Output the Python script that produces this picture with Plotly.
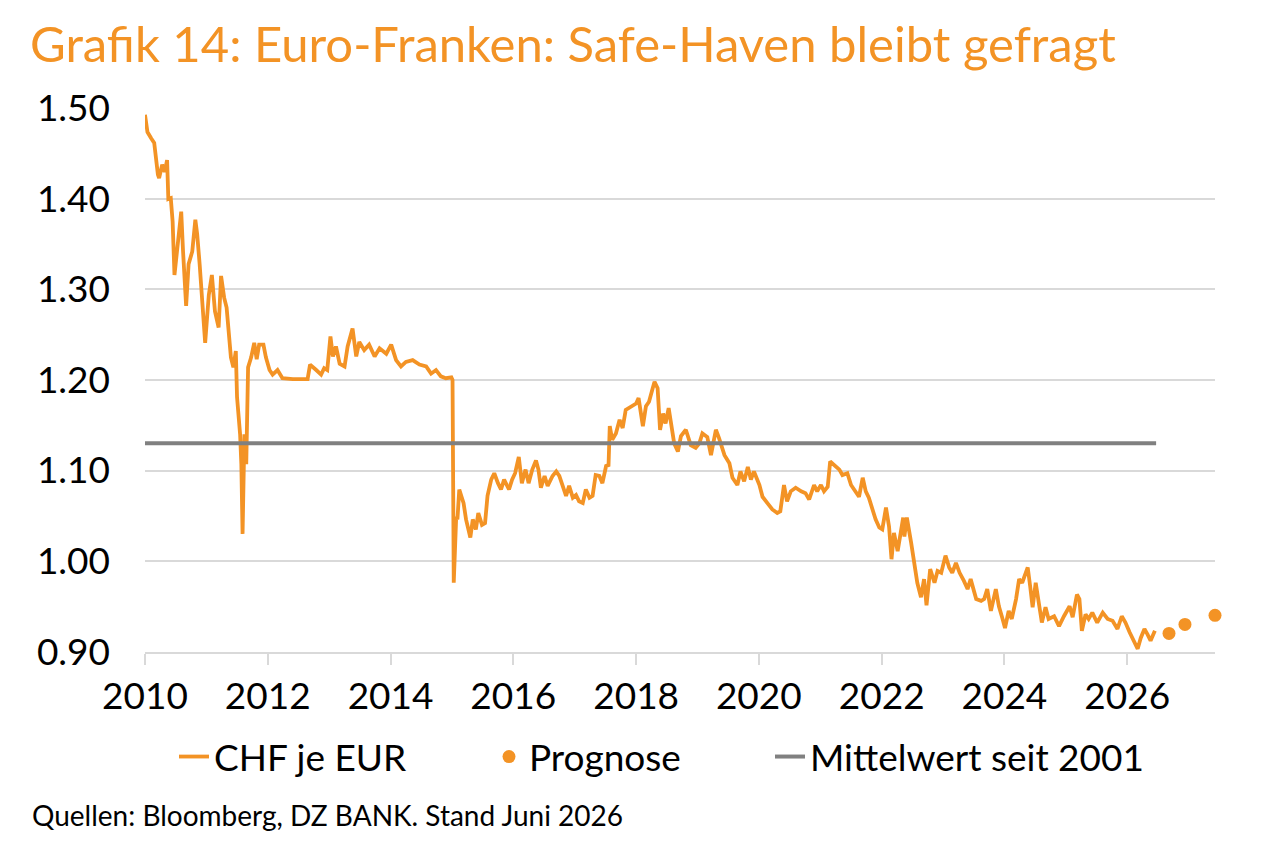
import datetime as dt
import plotly.graph_objects as go

# ---------------- data ----------------
# time in decimal years, CHF per EUR
spot_year = [
    2010.00, 2010.04, 2010.10, 2010.15, 2010.21, 2010.23, 2010.28, 2010.32, 2010.36, 2010.38,
    2010.42, 2010.45, 2010.48, 2010.53, 2010.59, 2010.62, 2010.67, 2010.71, 2010.77, 2010.82,
    2010.85, 2010.89, 2010.95, 2010.98, 2011.04, 2011.09, 2011.14, 2011.20, 2011.24, 2011.29,
    2011.33, 2011.37, 2011.40, 2011.44, 2011.48, 2011.50, 2011.53, 2011.55, 2011.57, 2011.59,
    2011.62, 2011.65, 2011.68, 2011.73, 2011.78, 2011.82, 2011.86, 2011.93, 2011.97, 2012.03,
    2012.08, 2012.16, 2012.24, 2012.41, 2012.65, 2012.69, 2012.79, 2012.87, 2012.92, 2012.97,
    2013.02, 2013.06, 2013.11, 2013.17, 2013.25, 2013.30, 2013.38, 2013.44, 2013.49, 2013.57,
    2013.65, 2013.74, 2013.82, 2013.93, 2014.01, 2014.09, 2014.17, 2014.25, 2014.36, 2014.47,
    2014.58, 2014.66, 2014.74, 2014.82, 2014.90, 2014.99, 2015.01, 2015.03, 2015.07, 2015.09,
    2015.12, 2015.19, 2015.23, 2015.30, 2015.34, 2015.39, 2015.43, 2015.49, 2015.54, 2015.58,
    2015.64, 2015.69, 2015.75, 2015.80, 2015.85, 2015.93, 2015.98, 2016.03, 2016.09, 2016.14,
    2016.20, 2016.25, 2016.31, 2016.37, 2016.41, 2016.45, 2016.51, 2016.56, 2016.64, 2016.70,
    2016.75, 2016.80, 2016.86, 2016.91, 2016.97, 2017.02, 2017.07, 2017.13, 2017.18, 2017.24,
    2017.29, 2017.34, 2017.40, 2017.45, 2017.51, 2017.55, 2017.57, 2017.61, 2017.67, 2017.73,
    2017.78, 2017.83, 2017.92, 2018.00, 2018.04, 2018.11, 2018.16, 2018.21, 2018.27, 2018.30,
    2018.35, 2018.39, 2018.44, 2018.48, 2018.53, 2018.57, 2018.62, 2018.68, 2018.73, 2018.81,
    2018.89, 2018.97, 2019.03, 2019.08, 2019.16, 2019.22, 2019.30, 2019.35, 2019.44, 2019.52,
    2019.57, 2019.65, 2019.70, 2019.76, 2019.82, 2019.87, 2019.92, 2020.01, 2020.06, 2020.14,
    2020.22, 2020.30, 2020.35, 2020.41, 2020.46, 2020.52, 2020.60, 2020.69, 2020.76, 2020.82,
    2020.90, 2020.95, 2021.01, 2021.06, 2021.12, 2021.16, 2021.23, 2021.31, 2021.36, 2021.44,
    2021.50, 2021.58, 2021.63, 2021.69, 2021.74, 2021.79, 2021.85, 2021.90, 2021.96, 2022.01,
    2022.07, 2022.12, 2022.16, 2022.20, 2022.26, 2022.31, 2022.35, 2022.37, 2022.41, 2022.48,
    2022.53, 2022.58, 2022.64, 2022.69, 2022.73, 2022.79, 2022.86, 2022.91, 2022.97, 2023.04,
    2023.10, 2023.15, 2023.21, 2023.27, 2023.34, 2023.40, 2023.45, 2023.54, 2023.62, 2023.67,
    2023.72, 2023.78, 2023.86, 2023.91, 2023.97, 2024.01, 2024.07, 2024.12, 2024.19, 2024.24,
    2024.29, 2024.35, 2024.38, 2024.42, 2024.46, 2024.51, 2024.56, 2024.61, 2024.67, 2024.72,
    2024.81, 2024.89, 2024.97, 2025.06, 2025.11, 2025.18, 2025.22, 2025.26, 2025.32, 2025.37,
    2025.43, 2025.51, 2025.60, 2025.68, 2025.76, 2025.84, 2025.91, 2025.97, 2026.04, 2026.09,
    2026.17, 2026.22, 2026.28, 2026.33, 2026.38, 2026.45,
]
spot_chf_per_eur = [
    1.493, 1.474, 1.467, 1.462, 1.427, 1.423, 1.438, 1.430, 1.443, 1.400,
    1.401, 1.375, 1.316, 1.349, 1.386, 1.342, 1.282, 1.328, 1.342, 1.377,
    1.361, 1.328, 1.269, 1.241, 1.294, 1.316, 1.276, 1.258, 1.315, 1.291,
    1.280, 1.250, 1.225, 1.214, 1.232, 1.181, 1.155, 1.140, 1.107, 1.030,
    1.140, 1.107, 1.214, 1.225, 1.241, 1.223, 1.239, 1.239, 1.225, 1.211,
    1.206, 1.211, 1.202, 1.201, 1.201, 1.217, 1.211, 1.206, 1.213, 1.211,
    1.248, 1.226, 1.237, 1.218, 1.215, 1.237, 1.257, 1.226, 1.242, 1.233,
    1.239, 1.226, 1.235, 1.229, 1.239, 1.222, 1.215, 1.220, 1.222, 1.217,
    1.215, 1.207, 1.211, 1.204, 1.202, 1.203, 1.200, 0.976, 1.049, 1.046,
    1.079, 1.064, 1.046, 1.026, 1.046, 1.035, 1.053, 1.040, 1.042, 1.072,
    1.090, 1.097, 1.086, 1.079, 1.090, 1.079, 1.090, 1.097, 1.115, 1.086,
    1.101, 1.086, 1.101, 1.111, 1.101, 1.081, 1.094, 1.083, 1.094, 1.099,
    1.094, 1.083, 1.072, 1.083, 1.070, 1.073, 1.066, 1.064, 1.079, 1.070,
    1.072, 1.095, 1.094, 1.086, 1.105, 1.106, 1.149, 1.134, 1.141, 1.156,
    1.147, 1.167, 1.171, 1.174, 1.180, 1.149, 1.171, 1.176, 1.191, 1.198,
    1.191, 1.145, 1.163, 1.152, 1.169, 1.152, 1.130, 1.121, 1.138, 1.145,
    1.128, 1.125, 1.130, 1.141, 1.137, 1.117, 1.145, 1.136, 1.117, 1.108,
    1.092, 1.084, 1.099, 1.088, 1.104, 1.090, 1.099, 1.084, 1.071, 1.064,
    1.057, 1.053, 1.055, 1.084, 1.066, 1.077, 1.081, 1.077, 1.075, 1.068,
    1.084, 1.077, 1.084, 1.077, 1.082, 1.110, 1.106, 1.101, 1.095, 1.097,
    1.084, 1.075, 1.071, 1.092, 1.077, 1.070, 1.057, 1.046, 1.037, 1.035,
    1.059, 1.038, 1.002, 1.031, 1.011, 1.031, 1.048, 1.027, 1.048, 1.020,
    0.995, 0.976, 0.960, 0.980, 0.951, 0.991, 0.976, 0.989, 0.987, 1.006,
    0.993, 0.987, 0.998, 0.987, 0.978, 0.969, 0.980, 0.958, 0.956, 0.958,
    0.969, 0.945, 0.969, 0.950, 0.936, 0.926, 0.945, 0.936, 0.958, 0.980,
    0.976, 0.987, 0.993, 0.972, 0.949, 0.976, 0.954, 0.932, 0.949, 0.936,
    0.939, 0.928, 0.939, 0.950, 0.938, 0.963, 0.958, 0.923, 0.941, 0.936,
    0.943, 0.932, 0.943, 0.936, 0.934, 0.925, 0.939, 0.932, 0.921, 0.914,
    0.903, 0.915, 0.925, 0.919, 0.912, 0.923,
]

forecast_year = [2026.68, 2026.94, 2027.43]
forecast_chf_per_eur = [0.92, 0.93, 0.94]

mean_since_2001 = 1.13
mean_span_year = [2010.00, 2026.47]

y_tick_values = [0.90, 1.00, 1.10, 1.20, 1.30, 1.40, 1.50]
y_tick_labels = ["0.90", "1.00", "1.10", "1.20", "1.30", "1.40", "1.50"]
x_tick_years = [2010, 2012, 2014, 2016, 2018, 2020, 2022, 2024, 2026]

title_text = "Grafik 14: Euro-Franken: Safe-Haven bleibt gefragt"
source_text = "Quellen: Bloomberg, DZ BANK. Stand Juni 2026"
series_names = ["CHF je EUR", "Prognose", "Mittelwert seit 2001"]


def to_date(y):
    year = int(y)
    return dt.datetime(year, 1, 1) + dt.timedelta(days=(y - year) * 365.25)


ORANGE = "#F39325"
GREY = "#808080"
GRID = "#D9D9D9"
FONT = "Lato, 'Noto Sans', sans-serif"

fig = go.Figure()
fig.add_trace(go.Scatter(
    x=[to_date(v) for v in spot_year], y=spot_chf_per_eur, mode="lines",
    name=series_names[0], line=dict(color=ORANGE, width=3.8), legend="legend",
))
fig.add_trace(go.Scatter(
    x=[to_date(v) for v in forecast_year], y=forecast_chf_per_eur, mode="markers",
    name=series_names[1], marker=dict(color=ORANGE, size=13), cliponaxis=False,
    legend="legend2",
))
fig.add_trace(go.Scatter(
    x=[to_date(v) for v in mean_span_year], y=[mean_since_2001] * 2, mode="lines",
    name=series_names[2], line=dict(color=GREY, width=4), legend="legend3",
))


def legend_at(px_left):
    return dict(orientation="h", x=(px_left - 145) / 1070, xanchor="left",
                y=-0.193, yanchor="middle", font=dict(family=FONT, size=37),
                itemwidth=30, bgcolor="rgba(0,0,0,0)")


fig.update_layout(
    width=1280, height=850,
    margin=dict(l=145, r=65, t=108, b=198),
    paper_bgcolor="white", plot_bgcolor="white",
    font=dict(family=FONT, color="black", size=37),
    title=dict(text=title_text, x=30 / 1280, xref="container", xanchor="left",
               y=1 - 45 / 850, yref="container", yanchor="middle",
               font=dict(family=FONT, size=49, color=ORANGE)),
    showlegend=True,
    legend=legend_at(174),
    legend2=legend_at(489),
    legend3=legend_at(770),
    annotations=[dict(text=source_text, xref="paper", yref="paper",
                      x=(30 - 145) / 1070, y=(652 - 815) / 544, xanchor="left", yanchor="middle",
                      showarrow=False, font=dict(family=FONT, size=28, color="black"))],
)
fig.update_xaxes(
    type="date", range=[to_date(2010.0), to_date(forecast_year[-1])],
    tickvals=[dt.datetime(y, 1, 1) for y in x_tick_years],
    ticktext=[str(y) for y in x_tick_years],
    showgrid=False, zeroline=False,
    showline=True, linecolor=GRID, linewidth=1.5,
    ticks="outside", ticklen=11, tickcolor=GRID, tickwidth=1.5,
    tickfont=dict(size=37),
)
fig.update_yaxes(
    range=[0.8995, 1.5005], tickvals=y_tick_values, ticktext=y_tick_labels,
    showgrid=True, gridcolor=GRID, gridwidth=1.5, zeroline=False,
    ticks="", ticklabelstandoff=34, tickfont=dict(size=37),
)

fig.write_html("out.html")
